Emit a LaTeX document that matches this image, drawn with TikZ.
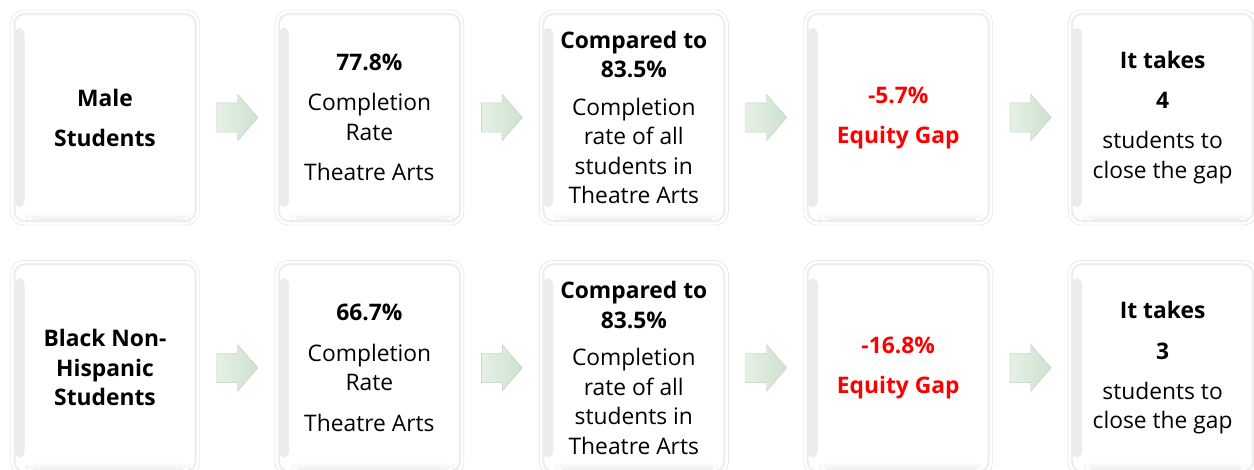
\documentclass[tikz,border=0pt]{standalone}
\usepackage{fontspec}
\setmainfont{Open Sans}
\usepackage{xcolor}
\definecolor{gapred}{RGB}{255,0,0}
\definecolor{arrowfill}{RGB}{206,225,206}
\definecolor{arrowlight}{RGB}{230,241,230}
\definecolor{arrowline}{RGB}{190,206,190}
\newcommand{\gap}[1]{\textcolor{gapred}{#1}}
\usetikzlibrary{calc}
\usetikzlibrary{positioning}
\usetikzlibrary{shapes.arrows}

\tikzset{
  tile/.style={rectangle, rounded corners=13pt, draw=black!14, fill=white,
    minimum width=189pt, minimum height=215pt, inner sep=0pt, align=center,
    font=\fontsize{22.8}{29.5}\selectfont,
    path picture={
      \fill[left color=black!8, right color=white, rounded corners=6pt]
        ([shift={(4pt,-18pt)}]path picture bounding box.north west) rectangle
        ([shift={(14pt,18pt)}]path picture bounding box.south west);
      \fill[top color=white, bottom color=black!7]
        ([shift={(16pt,14pt)}]path picture bounding box.south west) rectangle
        ([shift={(-10pt,4pt)}]path picture bounding box.south east);
      \draw[black!7, line width=2pt, rounded corners=10pt]
        ([shift={(4pt,-4pt)}]path picture bounding box.north west) rectangle
        ([shift={(-4pt,4pt)}]path picture bounding box.south east);
    }},
  nextarrow/.style={single arrow, draw=arrowline, left color=arrowlight, right color=arrowfill,
    minimum height=41pt, single arrow head extend=8.5pt,
    single arrow tip angle=98, inner xsep=0pt, inner ysep=14.5pt, anchor=tail}
}

\begin{document}
\begin{tikzpicture}[x=1pt, y=-1pt, node distance=75pt]

    \useasboundingbox (0, 0) rectangle (1254, 469);

    % male students
    \node [tile] (m1) at (105, 117.5) {\textbf{Male}\\[10.5pt]\textbf{Students}};
    \node [tile, right=of m1] (m2) {\textbf{77.8\%}\\[11pt]Completion\\Rate\\[11pt]Theatre Arts};
    \node [tile, right=of m2] (m3) {\textbf{Compared to}\\\textbf{83.5\%}\\[8pt]Completion\\rate of all\\students in\\Theatre Arts};
    \node [tile, right=of m3] (m4) {\textbf{\gap{-5.7\%}}\\[10.5pt]\textbf{\gap{Equity Gap}}};
    \node [tile, right=of m4] (m5) {\textbf{It takes}\\[11pt]\textbf{4}\\[10.5pt]students to\\close the gap};

    % black non-hispanic students
    \node [tile, below=35pt of m1] (b1) {\textbf{Black Non-}\\\textbf{Hispanic}\\\textbf{Students}};
    \node [tile, right=of b1] (b2) {\textbf{66.7\%}\\[11pt]Completion\\Rate\\[11pt]Theatre Arts};
    \node [tile, right=of b2] (b3) {\textbf{Compared to}\\\textbf{83.5\%}\\[8pt]Completion\\rate of all\\students in\\Theatre Arts};
    \node [tile, right=of b3] (b4) {\textbf{\gap{-16.8\%}}\\[10.5pt]\textbf{\gap{Equity Gap}}};
    \node [tile, right=of b4] (b5) {\textbf{It takes}\\[11pt]\textbf{3}\\[10.5pt]students to\\close the gap};

    \foreach \i in {1, 2, 3, 4} {
      \node [nextarrow] (ma\i) at ($(m\i.east)+(17,0)$) {};
      \node [nextarrow] (ba\i) at ($(b\i.east)+(17,0)$) {};
    }

  \end{tikzpicture}
\end{document}
